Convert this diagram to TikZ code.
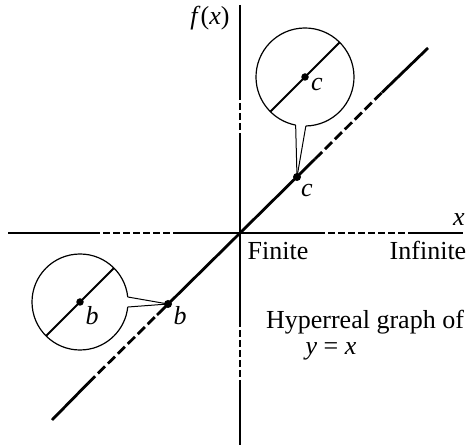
\documentclass[tikz,border=0pt]{standalone}
\usepackage{fontspec}
\setmainfont{Liberation Serif}
\begin{document}
\begin{tikzpicture}[x=1pt,y=1pt,
  axis/.style={line width=1.2pt},
  axisdash/.style={axis,dash pattern=on 7pt off 3pt},
  diag/.style={line width=2.8pt},
  diagdash/.style={diag,dash pattern=on 10pt off 4pt},
  inner/.style={line width=1.9pt},
  ring/.style={line width=1.2pt},
  tail/.style={line width=1pt},
  dot/.style={circle,fill,inner sep=0pt,minimum size=8pt},
  lab/.style={font=\fontsize{26}{30}\selectfont,inner sep=0pt,anchor=base}]
\useasboundingbox (0,0) rectangle (466,447);
% vertical axis
\coordinate (YT) at (240,442);
\coordinate (YD1) at (240,354);
\coordinate (YD2) at (240,307);
\coordinate (YD3) at (240,127);
\coordinate (YD4) at (240,64);
\coordinate (YB) at (240,2);
\draw[axis] (YT) -- (YD1);
\draw[axisdash] (YD1) -- (YD2);
\draw[axis] (YD2) -- (YD3);
\draw[axisdash] (YD3) -- (YD4);
\draw[axis] (YD4) -- (YB);
% horizontal axis
\coordinate (XL) at (8,214);
\coordinate (XD1) at (93,214);
\coordinate (XD2) at (173,214);
\coordinate (XD3) at (318,214);
\coordinate (XD4) at (410,214);
\coordinate (XR) at (463,214);
\draw[axis] (XL) -- (XD1);
\draw[axisdash] (XD1) -- (XD2);
\draw[axis] (XD2) -- (XD3);
\draw[axisdash] (XD3) -- (XD4);
\draw[axis] (XD4) -- (XR);
% diagonal y = x
\coordinate (DB) at (52,27);
\coordinate (DD1) at (88,63.7);
\coordinate (DD2) at (157,132);
\coordinate (O) at (240,214);
\coordinate (DD3) at (315,288);
\coordinate (DD4) at (382,354.5);
\coordinate (DT) at (428,399);
\draw[diag] (DB) -- (DD1);
\draw[diagdash] (DD1) -- (DD2);
\draw[diag] (DD2) -- (DD3);
\draw[diagdash] (DD3) -- (DD4);
\draw[diag] (DD4) -- (DT);
\node[dot] (bdot) at (168,143) {};
\node[dot] (cdot) at (297,270) {};
% magnifier for c
\coordinate (cc) at (305,370);
\draw[ring] (cc) ++(271:49) arc[start angle=271,end angle=619,radius=49];
\draw[tail] (cc) ++(271:49) -- (cdot.center);
\draw[tail] (cc) ++(259:49) -- (cdot.center);
\draw[inner] (cc) ++(225:49) -- ++(45:98);
\node[dot,minimum size=7.5pt] (cin) at (cc) {};
% magnifier for b
\coordinate (bc) at (80,145);
\draw[ring] (bc) ++(6:48) arc[start angle=6,end angle=354,radius=48];
\draw[tail] (bc) ++(6:48) -- (bdot.center);
\draw[tail] (bc) ++(-6:48) -- (bdot.center);
\draw[inner] (bc) ++(225:48) -- ++(45:96);
\node[dot,minimum size=7.5pt] (bin) at (bc) {};
% labels
\node[lab] (fx) at (210,422) {\textit{f}(\textit{x})};
\node[lab] (xl) at (459,221) {\textit{x}};
\node[lab] (fin) at (278,187) {Finite};
\node[lab] (inf) at (428,187) {Infinite};
\node[lab] (cout) at (307,250) {\textit{c}};
\node[lab] (cinl) at (317,356) {\textit{c}};
\node[lab] (binl) at (92,122) {\textit{b}};
\node[lab] (bout) at (180,122) {\textit{b}};
\node[lab] (hyp) at (365,118) {Hyperreal graph of};
\node[lab] (yx) at (331,92) {\textit{y} = \textit{x}};
\end{tikzpicture}
\end{document}
